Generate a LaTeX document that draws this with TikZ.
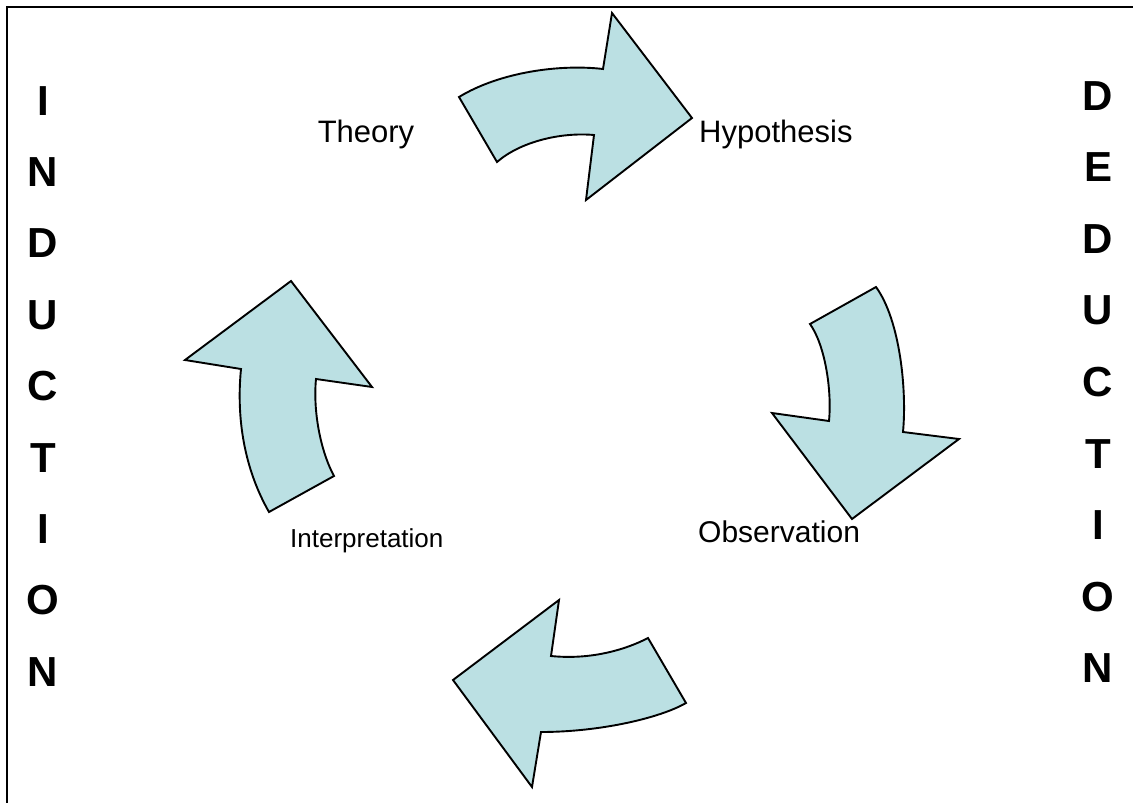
\documentclass[tikz,border=0pt]{standalone}
\usepackage{fontspec}
\setmainfont{Liberation Sans}
\definecolor{arrowfill}{RGB}{187,224,227}
\tikzset{
  bentarrow/.style={draw=black, line width=1.9pt, fill=arrowfill, line join=miter},
  label/.style={font=\fontsize{31}{31}\selectfont, inner sep=0pt},
  smalllabel/.style={font=\fontsize{26}{26}\selectfont, inner sep=0pt},
  bigletter/.style={font=\bfseries\fontsize{42}{42}\selectfont, inner sep=0pt, anchor=base},
  frameline/.style={draw=black, line width=2.2pt}
}
\begin{document}
\begin{tikzpicture}[x=1pt,y=-1pt]
\useasboundingbox (0,0) rectangle (1133,803);
% frame (top and left edges)
\coordinate (fbl) at (7,803);
\coordinate (ftl) at (7,7);
\coordinate (ftr) at (1133,7);
\draw[frameline] (fbl) -- (ftl) -- (ftr);
% top arrow (Theory -> Hypothesis)
\draw[bentarrow] (459,97) .. controls (500,72) and (560,64) .. (603,69)
  -- (612,13) -- (692,118) -- (586,200) -- (594,135)
  .. controls (560,132) and (520,142) .. (497,162) -- cycle;
% right arrow (Hypothesis -> Observation)
\draw[bentarrow] (810,324) -- (876,287)
  .. controls (900,320) and (907,390) .. (903,432)
  -- (959,439) -- (852,519) -- (772,413) -- (829,421)
  .. controls (832,390) and (825,345) .. (810,324) -- cycle;
% bottom arrow (Observation -> Interpretation)
\draw[bentarrow] (648,638) -- (686,703)
  .. controls (660,718) and (600,732) .. (541,732)
  -- (532,787) -- (453,680) -- (559,600) -- (551,656)
  .. controls (590,660) and (625,650) .. (648,638) -- cycle;
% left arrow (Interpretation -> Theory)
\draw[bentarrow] (269,512) -- (334,476)
  .. controls (320,450) and (313,410) .. (316,379)
  -- (372,387) -- (291,281) -- (185,360) -- (241,369)
  .. controls (236,420) and (245,470) .. (269,512) -- cycle;
% labels
\node[label, anchor=base] (theory) at (366,142) {Theory};
\node[label, anchor=base west] (hypothesis) at (699,142) {Hypothesis};
\node[label, anchor=base west, font=\fontsize{30}{30}\selectfont] (observation) at (698,542) {Observation};
\node[smalllabel, anchor=base west] (interpretation) at (290,547) {Interpretation};
% INDUCTION
\foreach \ch [count=\i from 0] in {I,N,D,U,C,T,I,O,N}
  \node[bigletter] (ind\i) at (43,115+71.4*\i) {\ch};
% DEDUCTION
\foreach \ch [count=\i from 0] in {D,E,D,U,C,T,I,O,N}
  \node[bigletter] (ded\i) at (1098,110+71.6*\i) {\ch};
\end{tikzpicture}
\end{document}
